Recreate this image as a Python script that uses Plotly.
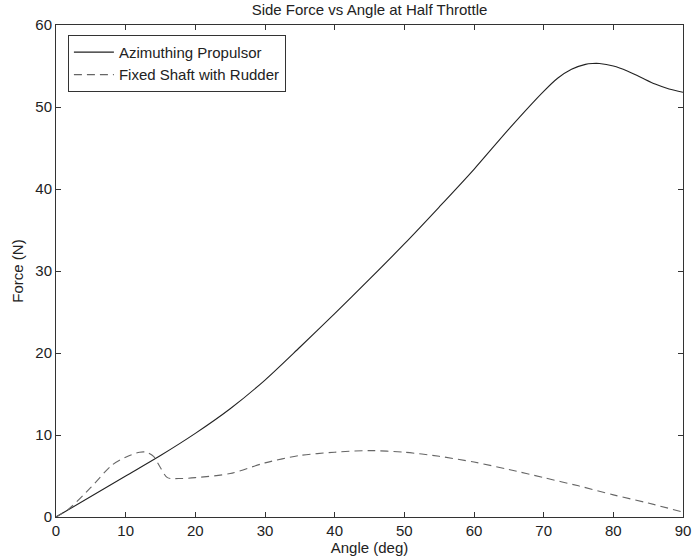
import plotly.graph_objects as go

angle_az = [0, 5, 10, 15, 20, 25, 30, 35, 40, 45, 50, 55, 60, 65, 70, 72, 74, 76, 77, 78, 80, 82, 84, 86, 88, 90]
force_az = [0, 2.5, 5.0, 7.5, 10.2, 13.2, 16.7, 20.7, 24.8, 29.0, 33.3, 37.8, 42.4, 47.3, 51.9, 53.5, 54.6, 55.2, 55.3, 55.3, 55.0, 54.4, 53.6, 52.8, 52.2, 51.8]

angle_fs = [0, 2, 5, 8, 10, 12, 13, 14, 15, 16, 18, 20, 25, 30, 35, 40, 45, 50, 55, 60, 65, 70, 75, 80, 85, 90]
force_fs = [0, 1.1, 3.6, 6.3, 7.3, 7.9, 7.9, 7.4, 6.0, 4.8, 4.7, 4.8, 5.3, 6.6, 7.5, 7.9, 8.1, 7.9, 7.4, 6.7, 5.8, 4.8, 3.8, 2.7, 1.7, 0.6]

x_ticks = [0, 10, 20, 30, 40, 50, 60, 70, 80, 90]
y_ticks = [0, 10, 20, 30, 40, 50, 60]

fig = go.Figure()
fig.add_trace(go.Scatter(x=angle_az, y=force_az, mode="lines", name="Azimuthing Propulsor",
                         line=dict(color="#222222", width=1.1, shape="spline", smoothing=0.8)))
fig.add_trace(go.Scatter(x=angle_fs, y=force_fs, mode="lines", name="Fixed Shaft with Rudder",
                         line=dict(color="#666666", width=1.1, dash="8px,5px", shape="spline", smoothing=0.8)))

axis_common = dict(showline=True, linecolor="#333333", linewidth=1, mirror="ticks",
                   ticks="inside", ticklen=5, tickcolor="#333333", showgrid=False, zeroline=False,
                   automargin=False, tickfont=dict(size=15, color="#222222"))
fig.update_xaxes(range=[0, 90], tickvals=x_ticks, title=dict(text="Angle (deg)", standoff=0,
                 font=dict(size=15, color="#222222")), **axis_common)
fig.update_yaxes(range=[0, 60], tickvals=y_ticks, title=dict(text="Force (N)", standoff=8,
                 font=dict(size=15, color="#222222")), **axis_common)

fig.update_layout(
    width=693, height=560,
    margin=dict(l=56, r=10, t=25, b=43, autoexpand=False),
    paper_bgcolor="white", plot_bgcolor="white",
    font=dict(family="Liberation Sans, Arial, sans-serif", size=15, color="#222222"),
    title=dict(text="Side Force vs Angle at Half Throttle", x=0.5, xref="paper", xanchor="center",
               y=0.983, yanchor="middle", font=dict(size=15)),
    legend=dict(x=0.019, y=0.98, xanchor="left", yanchor="top", bordercolor="#333333",
                borderwidth=1, bgcolor="white", font=dict(size=15), tracegroupgap=0,
                itemwidth=40),
    showlegend=True,
)

fig.write_html("out.html", config={"displayModeBar": False},
               post_script="document.body.style.margin='0';document.body.style.padding='0';")
